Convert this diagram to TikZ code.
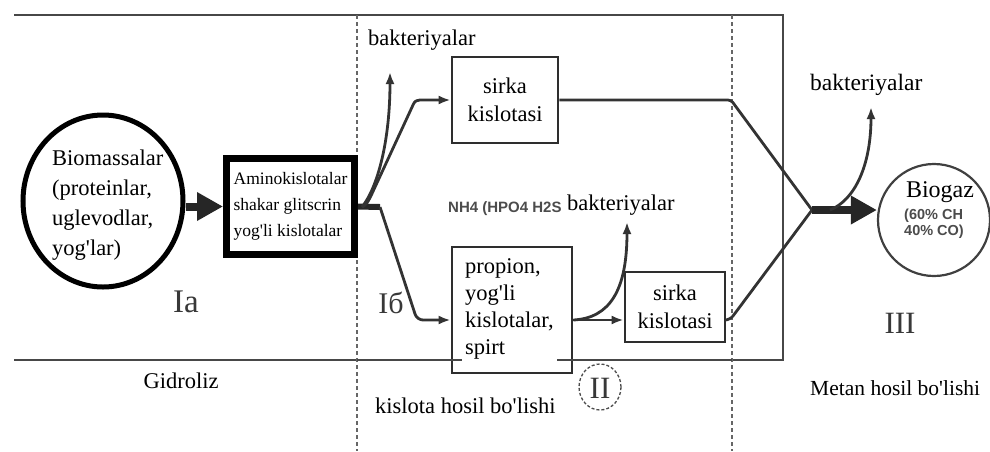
\documentclass[tikz,border=0pt]{standalone}
\usepackage{fontspec}
\setmainfont{Liberation Serif}
\newfontfamily\sansb{Liberation Sans}
\usetikzlibrary{arrows.meta,shapes.geometric}
\newcommand\ap{\textquotesingle}
\newcommand\rmsz[2]{\rmfamily\fontsize{#1}{#2}\selectfont}
\begin{document}
\begin{tikzpicture}[x=1pt,y=-1pt,
  ln/.style={draw=black!80, line width=2.8pt},
  arr/.style={ln, -{Latex[length=12pt,width=9pt]}},
  bigarr/.style={draw=black!85, line width=8pt, -{Triangle[length=26pt,width=27pt]}},
  boxn/.style={draw=black!82, line width=2.8pt, rectangle, inner sep=0pt},
  lbl/.style={inner sep=0pt, font=\rmsz{22.5}{28}},
  frame/.style={draw=black!72, line width=1.8pt},
  vdash/.style={draw=black!60, line width=1.5pt, dash pattern=on 4pt off 3pt},
  roman/.style={inner sep=0pt, text=black!78}]
\useasboundingbox (0,0) rectangle (990,451);
% frame and phase separators
\draw[frame] (14,15) -- (783,15) -- (783,360) -- (14,360);
\draw[vdash] (357,15) -- (357,451);
\draw[vdash] (732,15) -- (732,451);
% biomass
\node[ellipse, draw=black, line width=5pt, minimum width=160pt, minimum height=172pt, inner sep=0pt] (bio) at (103,201) {};
\node[lbl, align=left, anchor=north west, font=\rmsz{22.5}{30}] (biotext) at (52,150) {Biomassalar\\(proteinlar,\\uglevodlar,\\yog\ap lar)};
\node[draw=black, line width=7pt, minimum width=128pt, minimum height=96pt, inner sep=0pt, align=left, font=\rmsz{17.5}{26}] (amino) at (290.5,206.5) {Aminokislotalar\\shakar glitscrin\\yog\ap li kislotalar};
\draw[bigarr] (bio.east |- amino.west) -- (amino.west);
% junction
\coordinate (j) at (380,207);
\coordinate (ja) at (362,207);
\draw[draw=black!85, line width=6pt] (amino.east) -- (j);
% boxes
\node[boxn, minimum width=106pt, minimum height=86pt, align=center, font=\rmsz{22.5}{28}] (tops) at (505,100) {sirka\\kislotasi};
\node[boxn, minimum width=120pt, minimum height=126pt] (prop) at (512,310) {};
\node[boxn, minimum width=100pt, minimum height=70pt, align=center, font=\rmsz{22.5}{28}] (s2) at (675,307) {sirka\\kislotasi};
% branches
\coordinate (b1tip) at (390,72);
\draw[arr] (ja) .. controls (378,187) and (390,140) .. (b1tip);
\draw[arr] (ja) .. controls (368,205) and (372,193) .. (376,185) -- (413,105) .. controls (415,101) .. (420,100) -- (tops.west);
\draw[arr, rounded corners=6pt] (j) -- (417,320) -- ([yshift=-10pt]prop.west);
% line through propion box, then its text with white background
\draw[frame] (357,360) -- (732,360);
\node[lbl, align=left, anchor=north west, fill=white, inner sep=3pt, font=\rmsz{22.5}{27}] (proptext) at (462,255) {propion,\\yog\ap li\\kislotalar,\\spirt};
\draw[arr] ([yshift=-10pt]prop.east) -- ([yshift=-13pt]s2.west);
\coordinate (b2tip) at (627,222);
\draw[arr] ([yshift=-10pt]prop.east) .. controls (610,318) and (627,290) .. (b2tip);
% merge
\coordinate (M) at (812,210);
\draw[ln, rounded corners=3pt] (tops.east) -- (731,100) -- (M);
\draw[ln, rounded corners=5pt] ([yshift=-13pt]s2.east) -- (730,320) -- (M);
\node[circle, draw=black!75, line width=2.2pt, minimum size=112pt, inner sep=0pt] (bg) at (934,220) {};
\draw[bigarr] (M) -- (M -| bg.west);
\coordinate (b3tip) at (871,107);
\draw[arr] ([xshift=18pt]M) .. controls (855,200) and (871,165) .. (b3tip);
% biogas text
\node[inner sep=0pt, anchor=base, font=\rmsz{24}{28}] (bgt) at (940,197) {Biogaz};
\node[inner sep=0pt, anchor=north west, align=left, text=black!70, font=\sansb\bfseries\fontsize{14.5}{15.5}\selectfont] (bgc) at (904,209) {(60\% CH\\40\% CO)};
% labels
\node[lbl, anchor=base west] (bakt1) at (368,45) {bakteriyalar};
\node[lbl, anchor=base west] (bakt2) at (567,210) {bakteriyalar};
\node[lbl, anchor=base west, font=\rmsz{23.5}{28}] (bakt3) at (810,90) {bakteriyalar};
\node[inner sep=0pt, anchor=base west, text=black!70, font=\sansb\bfseries\fontsize{15}{18}\selectfont] (nh) at (448,212) {NH4 (HPO4 H2S};
\node[roman, anchor=base, font=\rmsz{33}{36}] (ia) at (186,312) {Ia};
\node[roman, anchor=base, font=\rmsz{30}{34}] (ib) at (391,313) {Iб};
\node[roman, anchor=base, font=\rmsz{31}{34}] (iii) at (900,333) {III};
\node[ellipse, draw=black!70, line width=1.3pt, dash pattern=on 3pt off 2pt, minimum width=42pt, minimum height=46pt, inner sep=0pt] (iicirc) at (600,387) {};
\node[roman, anchor=base, font=\rmsz{31}{34}] (ii) at (600,398) {II};
\node[lbl, anchor=base] (gid) at (181,388) {Gidroliz};
\node[lbl, anchor=base west] (kis) at (375,413) {kislota hosil bo\ap lishi};
\node[lbl, anchor=base west, font=\rmsz{21.5}{26}] (met) at (810,395) {Metan hosil bo\ap lishi};
\end{tikzpicture}
\end{document}
